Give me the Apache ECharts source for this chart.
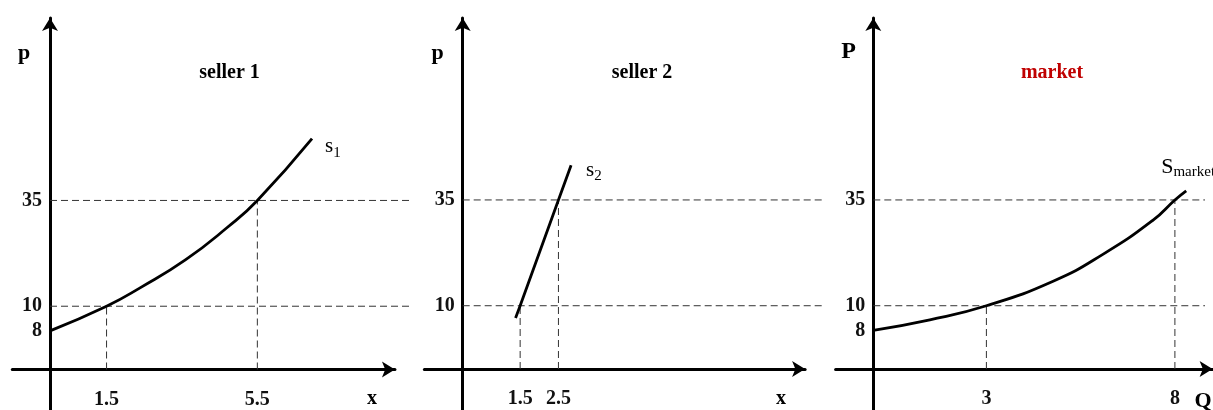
<!DOCTYPE html>
<html>
<head>
<meta charset="utf-8">
<script src="https://cdn.jsdelivr.net/npm/echarts@6/dist/echarts.min.js"></script>
<style>
  html, body { margin: 0; padding: 0; background: #fff; }
  #chart { width: 1213px; height: 410px; }
</style>
</head>
<body>
<div id="chart"></div>
<script>
// seller 1 supply curve (quantity, price)
const seller1Q = [0, 1.5, 2.4, 3.6, 4.7, 5.5, 6.95];
const seller1P = [8, 10, 14.4, 21.0, 28.6, 35, 47.8];
// seller 2 supply curve
const seller2Q = [1.38, 1.5, 2.5, 2.83];
const seller2P = [9, 10, 35, 42.2];
// market supply curve
const marketQ = [0, 1.5, 3, 4.77, 6.1, 7.43, 8, 8.3];
const marketP = [8, 8.86, 10, 15.8, 22.2, 30.3, 35, 36.9];

// price levels marked with dashed lines, and the quantities read at them
const guidePrices = [10, 35];
const seller1Guides = [1.5, 5.5];
const seller2Guides = [1.5, 2.5];
const marketGuides = [3, 8];

// tick labels on the price axes
const seller1PTicks = [8, 10, 35];
const seller2PTicks = [10, 35];
const marketPTicks = [8, 10, 35];

// the sketch is not to scale: where each price level sits on the drawn axis
const scaleP = [0, 8, 10, 35];
const scaleDrawn = [0, 8.0, 13.1, 35];

function drawnP(p) {
  for (let i = 1; i < scaleP.length; i++) {
    if (p <= scaleP[i]) {
      const t = (p - scaleP[i - 1]) / (scaleP[i] - scaleP[i - 1]);
      return scaleDrawn[i - 1] + t * (scaleDrawn[i] - scaleDrawn[i - 1]);
    }
  }
  return p - scaleP[scaleP.length - 1] + scaleDrawn[scaleDrawn.length - 1];
}

const serif = 'Liberation Serif';
const KY = 4.83; // px per drawn price unit
const TOP = 18;
const BOTTOM = 420;

// origin in px, px per quantity unit, axis end, where dashed lines stop
const panels = [
  { ox: 50,    oy: 369.5, kx: 37.7, xMax: 9.15, guideEnd: 410,
    q: seller1Q, p: seller1P, guides: seller1Guides, ticks: seller1PTicks, smooth: 0.5,
    curveLabel: '{s|s}{sub|1}', labelOffset: [5, 8] },
  { ox: 462.7, oy: 369,   kx: 38.3, xMax: 8.94, guideEnd: 822,
    q: seller2Q, p: seller2P, guides: seller2Guides, ticks: seller2PTicks, smooth: false,
    curveLabel: '{s|s}{sub|2}', labelOffset: [7, 5] },
  { ox: 873.3, oy: 369,   kx: 37.7, xMax: 9.0,  guideEnd: 1205,
    q: marketQ, p: marketP, guides: marketGuides, ticks: marketPTicks, smooth: 0.5,
    curveLabel: '{S|S}{sub2|market}', labelOffset: [-33, -24] }
];

const grids = [], xAxes = [], yAxes = [], series = [];
const guideStyle = { color: '#333', width: 1, type: [7, 4] };
const arrowAxisLine = {
  onZero: true,
  symbol: ['none', 'arrow'],
  symbolSize: [12, 13],
  lineStyle: { color: '#000', width: 3 }
};
const n = panels.length;

panels.forEach(function (pn, i) {
  const yMax = (pn.oy - TOP) / KY;
  const yMin = -(BOTTOM - pn.oy) / KY;
  const gridLeft = pn.ox - pn.kx;
  grids.push({
    left: gridLeft,
    top: TOP,
    width: (pn.xMax + 1) * pn.kx,
    height: BOTTOM - TOP,
    containLabel: false,
    outerBoundsMode: 'none'
  });
  // labels stay at the grid edge, so pull them back to the zero lines
  xAxes.push({
    gridIndex: i, type: 'value', min: -1, max: pn.xMax,
    axisLine: arrowAxisLine,
    axisTick: { show: false },
    splitLine: { show: false },
    axisLabel: {
      customValues: pn.guides,
      margin: pn.oy + 20 - BOTTOM,
      fontFamily: serif, fontWeight: 'bold', fontSize: 20, color: '#111'
    }
  });
  const tickDrawn = pn.ticks.map(drawnP);
  yAxes.push({
    gridIndex: i, type: 'value', min: yMin, max: yMax,
    axisLine: arrowAxisLine,
    axisTick: { show: false },
    splitLine: { show: false },
    axisLabel: {
      customValues: tickDrawn,
      margin: gridLeft - pn.ox + 8,
      fontFamily: serif, fontWeight: 'bold', fontSize: 20, color: '#111',
      formatter: function (v) {
        const k = tickDrawn.findIndex(function (d) { return Math.abs(d - v) < 1e-6; });
        return k >= 0 ? String(pn.ticks[k]) : '';
      }
    }
  });

  series.push({
    type: 'line', xAxisIndex: i, yAxisIndex: i, clip: false, silent: true,
    showSymbol: false, z: 5, smooth: pn.smooth,
    lineStyle: { color: '#000', width: 2.8 },
    data: pn.q.map(function (q, k) { return [q, drawnP(pn.p[k])]; }),
    endLabel: {
      show: true,
      formatter: pn.curveLabel,
      offset: pn.labelOffset,
      color: '#000',
      rich: {
        s: { fontFamily: serif, fontSize: 21, color: '#000' },
        S: { fontFamily: serif, fontSize: 22, color: '#000' },
        sub: { fontFamily: serif, fontSize: 15, color: '#000', padding: [12, 0, 0, 0] },
        sub2: { fontFamily: serif, fontSize: 15, color: '#000', padding: [10, 0, 0, 0] }
      }
    }
  });
});

// second, wider grid per panel for the dashed guides (they run past the arrow)
panels.forEach(function (pn, i) {
  const gi = n + i;
  const hEnd = (pn.guideEnd - pn.ox) / pn.kx;
  grids.push({
    left: pn.ox, top: TOP, width: pn.guideEnd - pn.ox, height: BOTTOM - TOP,
    containLabel: false, outerBoundsMode: 'none'
  });
  xAxes.push({ gridIndex: gi, type: 'value', min: 0, max: hEnd, show: false });
  yAxes.push({
    gridIndex: gi, type: 'value', show: false,
    min: -(BOTTOM - pn.oy) / KY, max: (pn.oy - TOP) / KY
  });
  guidePrices.forEach(function (gp, k) {
    const d = drawnP(gp);
    series.push({
      type: 'line', xAxisIndex: gi, yAxisIndex: gi, silent: true,
      showSymbol: false, z: 1, lineStyle: guideStyle,
      data: [[0, d], [hEnd, d]]
    });
    series.push({
      type: 'line', xAxisIndex: gi, yAxisIndex: gi, silent: true,
      showSymbol: false, z: 1, lineStyle: guideStyle,
      data: [[pn.guides[k], 0], [pn.guides[k], d]]
    });
  });
});

function label(text, x, top, size, color) {
  return {
    text: text, left: x, top: top, padding: 0, textAlign: 'center',
    textStyle: { fontFamily: serif, fontWeight: 'bold', fontSize: size, color: color || '#000' }
  };
}

const chart = echarts.init(document.getElementById('chart'), null, { renderer: 'canvas' });
chart.setOption({
  animation: false,
  backgroundColor: '#fff',
  title: [
    label('seller 1', 229.5, 63, 20),
    label('seller 2', 642, 63, 20),
    label('market', 1052, 63, 20, '#c00000'),
    label('p', 24, 42, 22),
    label('p', 437.5, 42, 22),
    label('P', 848.5, 40, 24),
    label('x', 372, 389, 20),
    label('x', 781, 389, 20),
    label('Q', 1203, 390, 22)
  ],
  grid: grids,
  xAxis: xAxes,
  yAxis: yAxes,
  series: series
});
</script>
</body>
</html>
